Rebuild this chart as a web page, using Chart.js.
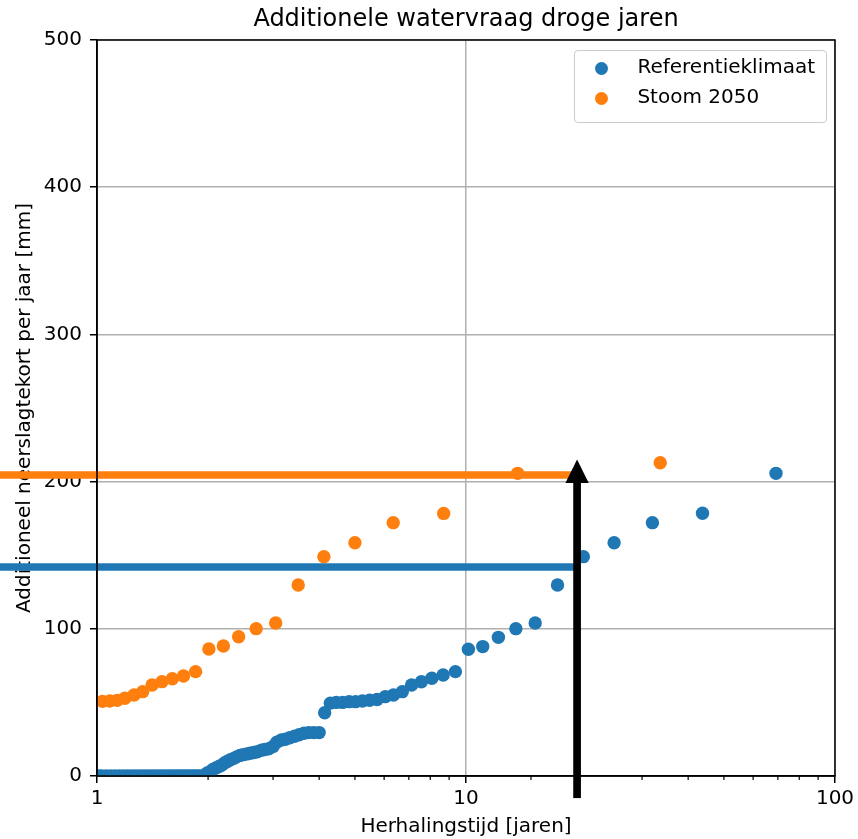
<!DOCTYPE html>
<html lang="nl">
<head>
<meta charset="UTF-8">
<title>Additionele watervraag droge jaren</title>
<script src="https://cdn.jsdelivr.net/npm/chart.js@4.4.0/dist/chart.umd.min.js"></script>
<style>
  body { margin: 0; background: #fff; font-family: 'DejaVu Sans', sans-serif; }
  .wrap { position: relative; width: 858px; height: 839px; }
  .legend {
    position: absolute; left: 574px; top: 50px; width: 253px; height: 73px;
    box-sizing: border-box; border: 1px solid #cccccc; border-radius: 4px;
    background: rgba(255, 255, 255, 0.8);
  }
  .legend .dot { position: absolute; left: 20px; width: 13.4px; height: 13.4px; border-radius: 50%; }
  .legend .lbl { position: absolute; left: 62.4px; font-size: 20px; line-height: 1; color: #000; white-space: nowrap; }
</style>
</head>
<body>
<div class="wrap">
  <canvas id="chart"></canvas>
  <div class="legend" id="legend"></div>
</div>
<script>
  // assen
  const xMin = 1, xMax = 100;
  const yMin = 0, yMax = 500, yStep = 100;

  const seriesNames = ['Referentieklimaat', 'Stoom 2050'];
  const seriesColors = ['#1f77b4', '#ff7f0e'];

  // Referentieklimaat: herhalingstijd [jaren] en tekort [mm]
  const refT = [
    69.2, 43.75, 32.0, 25.2, 20.8, 17.7, 15.4, 13.65, 12.24, 11.1, 10.15,
    9.36, 8.67, 8.08, 7.57, 7.12, 6.72, 6.36, 6.04, 5.74, 5.48, 5.24, 5.02, 4.82, 4.63, 4.45, 4.29, 4.14,
    4.00, 3.87, 3.75, 3.64, 3.53, 3.43, 3.33, 3.24, 3.16, 3.07, 3.00, 2.92, 2.85, 2.79, 2.72, 2.66,
    2.60, 2.55, 2.49, 2.44, 2.39, 2.35, 2.30, 2.26, 2.22, 2.18, 2.14, 2.10, 2.06, 2.03, 1.99,
    1.96, 1.93, 1.90, 1.87, 1.84, 1.81, 1.78, 1.75, 1.72, 1.69, 1.66, 1.63, 1.60, 1.57, 1.54, 1.51,
    1.48, 1.45, 1.42, 1.39, 1.36, 1.33, 1.30, 1.27, 1.24, 1.21, 1.18, 1.15, 1.12, 1.09, 1.06, 1.03, 1.01
  ];
  const refVal = [
    205.6, 178.5, 172.1, 158.5, 149, 129.8, 103.9, 100.1, 94.2, 87.9, 86.1,
    70.9, 68.6, 66.4, 64, 61.8, 57.3, 55, 53.9, 52, 51.5, 51, 50.5, 50.5, 50, 50, 49.5, 43,
    29.5, 29.5, 29.5, 29, 28, 27, 26, 25, 24.5, 23, 20, 18.5, 18, 17.5, 16.5, 16,
    15.5, 15, 14.5, 14, 13, 12, 11, 10, 9, 7.5, 6.5, 5.5, 4.5, 3, 2,
    0, 0, 0, 0, 0, 0, 0, 0, 0, 0, 0, 0, 0, 0, 0, 0,
    0, 0, 0, 0, 0, 0, 0, 0, 0, 0, 0, 0, 0, 0, 0, 0, 0
  ];

  // Stoom 2050
  const stoomT = [
    33.6, 13.8, 8.70, 6.35, 5.00, 4.12, 3.51, 3.05, 2.70, 2.42, 2.20, 2.01,
    1.85, 1.715, 1.60, 1.50, 1.41, 1.33, 1.26, 1.19, 1.135, 1.083, 1.035
  ];
  const stoomVal = [
    212.8, 205.6, 178.4, 172.1, 158.5, 149, 129.8, 103.9, 100.1, 94.6, 88.3, 86.3,
    70.9, 67.9, 66.1, 64.1, 61.8, 57.3, 55, 52.8, 51.4, 51, 50.7
  ];

  // horizontale niveaus en pijl bij T = 20 jaar
  const levelY = [142, 204.5];
  const levelFromT = 0.5, levelToT = 20;
  const arrowT = 20, arrowFromY = -15, arrowToY = 215;

  const isMajor = v => Math.abs(Math.log10(v) - Math.round(Math.log10(v))) < 1e-9;
  const toPoints = (xs, ys) => xs.map((t, i) => ({ x: t, y: ys[i] }));

  Chart.defaults.font.family = "'DejaVu Sans', sans-serif";
  Chart.defaults.color = '#000';

  const overlay = {
    id: 'overlay',
    afterDatasetsDraw(chart) {
      const { ctx, chartArea: a, scales: { x, y } } = chart;
      ctx.save();
      // kader
      ctx.strokeStyle = '#000';
      ctx.lineWidth = 1.5;
      ctx.strokeRect(a.left, a.top, a.right - a.left, a.bottom - a.top);
      // kleine streepjes op de x-as
      ctx.lineWidth = 1.2;
      x.ticks.forEach(t => {
        if (isMajor(t.value)) return;
        const px = x.getPixelForValue(t.value);
        ctx.beginPath();
        ctx.moveTo(px, a.bottom);
        ctx.lineTo(px, a.bottom + 4);
        ctx.stroke();
      });
      // pijl
      const px = x.getPixelForValue(arrowT);
      const y0 = y.getPixelForValue(arrowFromY);
      const y1 = y.getPixelForValue(arrowToY);
      const shaft = 7.7, headW = 23.3, headL = 23.4;
      ctx.fillStyle = '#000';
      ctx.fillRect(px - shaft / 2, y1 + headL - 1, shaft, y0 - y1 - headL + 1);
      ctx.beginPath();
      ctx.moveTo(px, y1);
      ctx.lineTo(px + headW / 2, y1 + headL);
      ctx.lineTo(px - headW / 2, y1 + headL);
      ctx.closePath();
      ctx.fill();
      ctx.restore();
    }
  };

  const chart = new Chart(document.getElementById('chart'), {
    type: 'scatter',
    data: {
      datasets: [
        {
          label: seriesNames[0], data: toPoints(refT, refVal),
          backgroundColor: seriesColors[0], borderWidth: 0, pointRadius: 6.7, order: 2
        },
        {
          label: seriesNames[1], data: toPoints(stoomT, stoomVal),
          backgroundColor: seriesColors[1], borderWidth: 0, pointRadius: 6.7, order: 1
        },
        {
          type: 'line', data: [{ x: levelFromT, y: levelY[0] }, { x: levelToT, y: levelY[0] }],
          borderColor: seriesColors[0], borderWidth: 7.7, pointRadius: 0, clip: false, order: 0
        },
        {
          type: 'line', data: [{ x: levelFromT, y: levelY[1] }, { x: levelToT, y: levelY[1] }],
          borderColor: seriesColors[1], borderWidth: 7.7, pointRadius: 0, clip: false, order: 0
        }
      ]
    },
    options: {
      responsive: true,
      maintainAspectRatio: false,
      animation: false,
      layout: { padding: { left: 0, right: 23, top: 0, bottom: 0 } },
      plugins: {
        legend: { display: false },
        tooltip: { enabled: false },
        title: {
          display: true, text: 'Additionele watervraag droge jaren', fullSize: false,
          color: '#000', font: { size: 24, weight: 'normal' }, padding: { top: 5.6, bottom: 5.6 }
        }
      },
      scales: {
        x: {
          type: 'logarithmic', min: xMin, max: xMax,
          grid: {
            color: c => c.tick && isMajor(c.tick.value) ? '#b0b0b0' : 'rgba(0,0,0,0)',
            tickColor: c => c.tick && isMajor(c.tick.value) ? '#000' : 'rgba(0,0,0,0)',
            lineWidth: 1.5, tickLength: 7, tickWidth: 1.5
          },
          border: { color: '#000', width: 1.5 },
          ticks: {
            autoSkip: false, maxRotation: 0, padding: 3.5, color: '#000', font: { size: 20 },
            callback: v => isMajor(v) ? String(v) : ''
          },
          title: {
            display: true, text: 'Herhalingstijd [jaren]', color: '#000',
            font: { size: 20 }, padding: { top: 1, bottom: 0 }
          },
          afterFit: s => { s.height = 63; }
        },
        y: {
          min: yMin, max: yMax,
          grid: { color: '#b0b0b0', tickColor: '#000', lineWidth: 1.5, tickLength: 7, tickWidth: 1.5 },
          border: { color: '#000', width: 1.5 },
          ticks: { stepSize: yStep, padding: 8, color: '#000', font: { size: 20 } },
          title: {
            display: true, text: 'Additioneel neerslagtekort per jaar [mm]', color: '#000',
            font: { size: 20 }, padding: { top: 13, bottom: 0 }
          },
          afterFit: s => { s.width = 97; }
        }
      }
    },
    plugins: [overlay]
  });

  // legenda binnen de grafiek
  const legend = document.getElementById('legend');
  chart.data.datasets.slice(0, 2).forEach((ds, i) => {
    const dot = document.createElement('span');
    dot.className = 'dot';
    dot.style.top = (10.6 + i * 30) + 'px';
    dot.style.background = ds.backgroundColor;
    const lbl = document.createElement('span');
    lbl.className = 'lbl';
    lbl.style.top = (5.4 + i * 30) + 'px';
    lbl.textContent = ds.label;
    legend.appendChild(dot);
    legend.appendChild(lbl);
  });
</script>
</body>
</html>
